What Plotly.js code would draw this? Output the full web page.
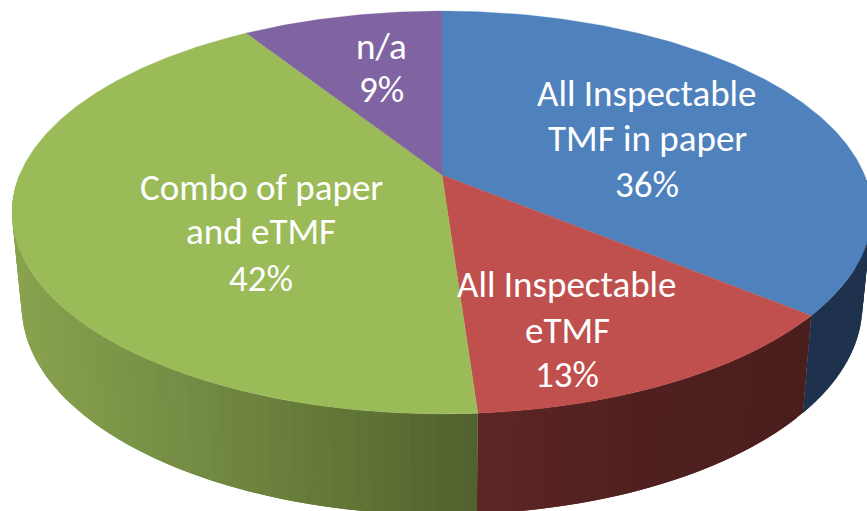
<!DOCTYPE html>
<html><head><meta charset="utf-8">
<script src="https://cdn.plot.ly/plotly-3.0.1.min.js"></script>
<style>html,body{margin:0;padding:0;background:#fff}#c{width:867px;height:511px}</style>
</head><body><div id="c"></div>
<script>
// Data
const categories = [["All Inspectable","TMF in paper"], ["All Inspectable","eTMF"], ["Combo of paper","and eTMF"], ["n/a"]];
const shares = [36, 12.9, 42.1, 9];

// Styles
const topColors = ["#4F81BD", "#C0504D", "#9BBB59", "#8064A2"];
const wallStops = [
  [[0, "#1E324D"], [867, "#1E324D"]],
  [[478, "#5C2625"], [650, "#4F201F"], [810, "#4B1E1E"]],
  [[12, "#88A24E"], [100, "#7E9849"], [200, "#738A43"], [300, "#677C39"], [400, "#5A6D32"], [478, "#50612E"]],
  [[0, "#4C3C61"], [867, "#4C3C61"]]
];
const labelX = [647, 567, 261, 381];
const labelY = [[93, 138, 184], [284, 330, 374], [187, 231, 278], [46, 89]];

// Perspective projection of the unit disc onto the page
const K = 0.186, CX = 442;
const rimTop = {a: 422.5, y0: 175, b: 161.95};
const rimBot = {a: 413, y0: 267, b: 152};
function proj(r, deg) {
  const t = deg * Math.PI / 180;
  const u = Math.sin(t), v = Math.cos(t), d = 1 + K * v;
  return [CX + r.a * u / d, (r.y0 - r.b * v) / d];
}
function hex2rgb(h){return [1,3,5].map(i=>parseInt(h.substr(i,2),16));}
function wallColor(stops, x){
  if (x <= stops[0][0]) return stops[0][1];
  for (let i=1;i<stops.length;i++){
    if (x <= stops[i][0]){
      const f=(x-stops[i-1][0])/(stops[i][0]-stops[i-1][0]);
      const a=hex2rgb(stops[i-1][1]), b=hex2rgb(stops[i][1]);
      return "rgb("+a.map((c,j)=>Math.round(c+(b[j]-c)*f)).join(",")+")";
    }
  }
  return stops[stops.length-1][1];
}
const total = shares.reduce((a,b)=>a+b,0);
const traces = [], tops = [];
let start = 0;
const STEP = 1.5;
shares.forEach((s,i)=>{
  const end = start + s/total*360;
  // side wall, only the near half can be seen; each strip overlaps the next so no seam shows
  const from = Math.max(start, 90), to = Math.min(end, 270);
  for (let a = from; a < to - 1e-6; a += STEP) {
    const b = Math.min(a + 2*STEP, to), m = Math.min(a + STEP, to);
    const top = [], bot = [];
    for (const t of [a, m, b]) { top.push(proj(rimTop,t)); bot.push(proj(rimBot,t)); }
    const p = top.concat(bot.reverse(), [top[0]]);
    const col = wallColor(wallStops[i], (top[0][0]+top[1][0])/2);
    traces.push({type:"scatter", mode:"lines", x:p.map(q=>q[0]), y:p.map(q=>q[1]),
      fill:"toself", fillcolor:col, line:{width:0}, hoverinfo:"skip", showlegend:false});
  }
  // top face
  const pts = [[CX, rimTop.y0]];
  for (let a = start; a < end; a += 0.5) pts.push(proj(rimTop,a));
  pts.push(proj(rimTop,end)); pts.push([CX, rimTop.y0]);
  tops.push({type:"scatter", mode:"lines", x:pts.map(q=>q[0]), y:pts.map(q=>q[1]),
    fill:"toself", fillcolor:topColors[i], line:{color:topColors[i],width:0.3}, name:categories[i].join(" "),
    hoverinfo:"name", showlegend:false});
  start = end;
});
const annotations = [];
categories.forEach((c,i)=>{
  c.concat([Math.round(shares[i])+"%"]).forEach((line,j)=>{
    annotations.push({x:labelX[i], y:labelY[i][j], xref:"x", yref:"y", showarrow:false, yanchor:"middle",
      text:line, font:{family:"Carlito, Lato, 'Open Sans', sans-serif", size:37, color:"#FFFFFF"}});
  });
});
Plotly.newPlot("c", traces.concat(tops), {
  width:867, height:511, margin:{l:0,r:0,t:0,b:0}, paper_bgcolor:"#fff", plot_bgcolor:"#fff",
  xaxis:{range:[0,867], visible:false, fixedrange:true},
  yaxis:{range:[511,0], visible:false, fixedrange:true},
  annotations:annotations, showlegend:false
}, {displayModeBar:false, staticPlot:true});
</script></body></html>
